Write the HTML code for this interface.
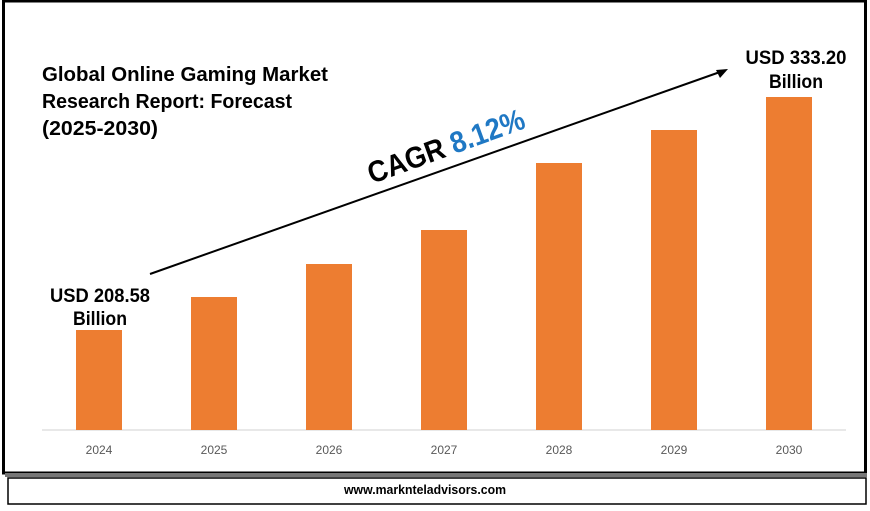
<!DOCTYPE html>
<html><head><meta charset="utf-8"><style>
body{margin:0;width:870px;height:506px;background:#fff;overflow:hidden;font-family:"Liberation Sans",sans-serif;}
</style></head><body>
<svg width="870" height="506" viewBox="0 0 870 506" xmlns="http://www.w3.org/2000/svg">
<rect x="0" y="0" width="870" height="506" fill="#fff"/>
<rect x="3.5" y="1" width="862" height="472" fill="none" stroke="#000" stroke-width="3"/>
<rect x="5" y="473" width="862" height="4" fill="#777"/>
<rect x="8" y="478" width="858" height="26" fill="none" stroke="#000" stroke-width="1.5"/>
<line x1="42" y1="430" x2="846" y2="430" stroke="#d9d9d9" stroke-width="1.2"/>
<g fill="#ed7d31">
<rect x="76" y="330" width="46" height="100"/>
<rect x="191" y="297" width="46" height="133"/>
<rect x="306" y="264" width="46" height="166"/>
<rect x="421" y="230" width="46" height="200"/>
<rect x="536" y="163" width="46" height="267"/>
<rect x="651" y="130" width="46" height="300"/>
<rect x="766" y="97" width="46" height="333"/>
</g>
<g font-size="12" fill="#595959" text-anchor="middle">
<text x="99" y="454">2024</text><text x="214" y="454">2025</text><text x="329" y="454">2026</text>
<text x="444" y="454">2027</text><text x="559" y="454">2028</text><text x="674" y="454">2029</text><text x="789" y="454">2030</text>
</g>
<g font-weight="bold" font-size="20" fill="#000">
<text x="42" y="81" textLength="286" lengthAdjust="spacingAndGlyphs">Global Online Gaming Market</text>
<text x="42" y="108" textLength="250" lengthAdjust="spacingAndGlyphs">Research Report: Forecast</text>
<text x="42" y="135" textLength="116" lengthAdjust="spacingAndGlyphs">(2025-2030)</text>
</g>
<g font-weight="bold" font-size="19" fill="#000">
<text x="100" y="302" text-anchor="middle" textLength="100" lengthAdjust="spacingAndGlyphs">USD 208.58</text>
<text x="100" y="325" text-anchor="middle" textLength="54" lengthAdjust="spacingAndGlyphs">Billion</text>
<text x="796" y="64" text-anchor="middle" textLength="101" lengthAdjust="spacingAndGlyphs">USD 333.20</text>
<text x="796" y="88" text-anchor="middle" textLength="54" lengthAdjust="spacingAndGlyphs">Billion</text>
</g>
<line x1="150" y1="274" x2="720" y2="72" stroke="#000" stroke-width="2"/>
<polygon points="728,69 716,70 720,78" fill="#000"/>
<text transform="translate(372,184) rotate(-20)" font-weight="bold" font-size="30" textLength="165" lengthAdjust="spacingAndGlyphs"><tspan fill="#000">CAGR </tspan><tspan fill="#1f78c4">8.12%</tspan></text>
<text x="425" y="494" text-anchor="middle" font-weight="bold" font-size="13" fill="#000" textLength="162" lengthAdjust="spacingAndGlyphs">www.marknteladvisors.com</text>
</svg>
</body></html>
